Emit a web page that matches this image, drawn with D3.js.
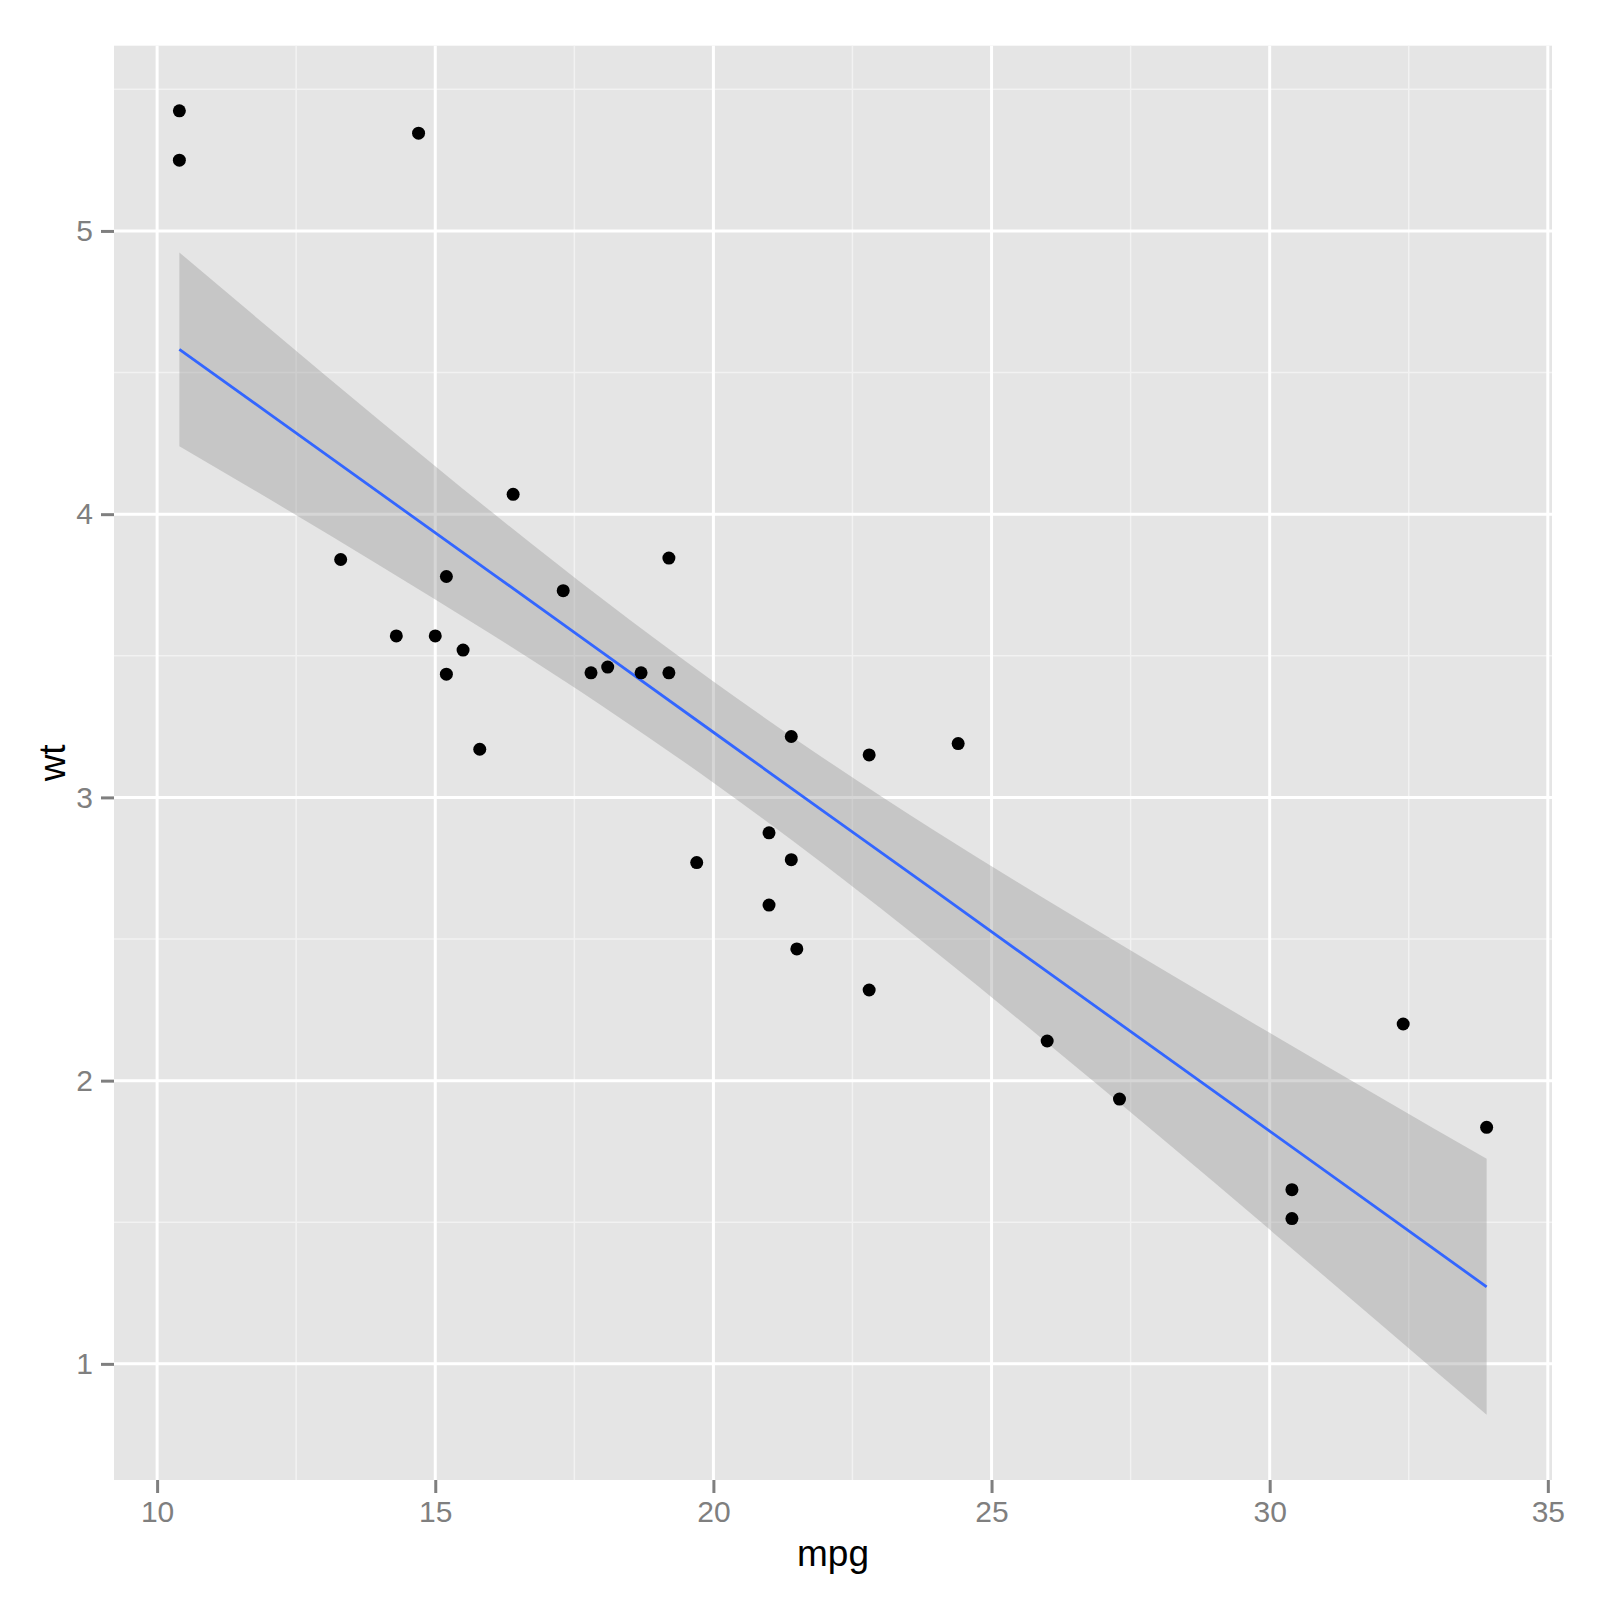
<!DOCTYPE html>
<html>
<head>
<meta charset="utf-8">
<script src="https://cdn.jsdelivr.net/npm/d3@7"></script>
<style>
  body { margin: 0; background: #fff; }
  text { font-family: "Liberation Sans", Arial, sans-serif; }
</style>
</head>
<body>
<div id="chart"></div>
<script>
// mtcars: mpg vs wt
const mpg = [21.0, 21.0, 22.8, 21.4, 18.7, 18.1, 14.3, 24.4, 22.8, 19.2, 17.8, 16.4, 17.3, 15.2, 10.4, 10.4,
             14.7, 32.4, 30.4, 33.9, 21.5, 15.5, 15.2, 13.3, 19.2, 27.3, 26.0, 30.4, 15.8, 19.7, 15.0, 21.4];
const wt = [2.620, 2.875, 2.320, 3.215, 3.440, 3.460, 3.570, 3.190, 3.150, 3.440, 3.440, 4.070, 3.730, 3.780, 5.250, 5.424,
            5.345, 2.200, 1.615, 1.835, 2.465, 3.520, 3.435, 3.840, 3.845, 1.935, 2.140, 1.513, 3.170, 2.770, 3.570, 2.780];

// smoother
const bandX    = [10.4, 12, 14, 16, 18, 20, 22, 24, 26, 28, 30, 32, 33.9];
const fitY     = [4.582, 4.357, 4.075, 3.794, 3.512, 3.230, 2.948, 2.667, 2.385, 2.103, 1.822, 1.540, 1.272];
const bandLow  = [4.240, 4.055, 3.819, 3.577, 3.323, 3.052, 2.761, 2.453, 2.133, 1.806, 1.474, 1.139, 0.820];
const bandHigh = [4.924, 4.659, 4.331, 4.010, 3.701, 3.409, 3.136, 2.880, 2.637, 2.401, 2.169, 1.940, 1.724];

const xTicks = [10, 15, 20, 25, 30, 35];
const xMinor = [12.5, 17.5, 22.5, 27.5, 32.5];
const yTicks = [1, 2, 3, 4, 5];
const yMinor = [1.5, 2.5, 3.5, 4.5, 5.5];

const W = 1599, H = 1600;
const panel = { left: 114, right: 1552, top: 45.7, bottom: 1480 };

const svg = d3.select("#chart").append("svg")
    .attr("width", W)
    .attr("height", H);

svg.append("rect").attr("width", W).attr("height", H).attr("fill", "#fff");

const x = d3.scaleLinear().domain([9.225, 35.075]).range([panel.left, panel.right]);
const y = d3.scaleLinear().domain([0.590, 5.654]).range([panel.bottom, panel.top]);

// panel background
svg.append("rect")
    .attr("x", panel.left).attr("y", panel.top)
    .attr("width", panel.right - panel.left)
    .attr("height", panel.bottom - panel.top)
    .attr("fill", "#E5E5E5");

const grid = svg.append("g");

// minor grid
grid.selectAll(".vminor").data(xMinor).join("line")
    .attr("x1", d => x(d)).attr("x2", d => x(d))
    .attr("y1", panel.top).attr("y2", panel.bottom)
    .attr("stroke", "#F2F2F2").attr("stroke-width", 1.5);
grid.selectAll(".hminor").data(yMinor).join("line")
    .attr("y1", d => y(d)).attr("y2", d => y(d))
    .attr("x1", panel.left).attr("x2", panel.right)
    .attr("stroke", "#F2F2F2").attr("stroke-width", 1.5);

// major grid
grid.selectAll(".vmajor").data(xTicks).join("line")
    .attr("x1", d => x(d)).attr("x2", d => x(d))
    .attr("y1", panel.top).attr("y2", panel.bottom)
    .attr("stroke", "#fff").attr("stroke-width", 3);
grid.selectAll(".hmajor").data(yTicks).join("line")
    .attr("y1", d => y(d)).attr("y2", d => y(d))
    .attr("x1", panel.left).attr("x2", panel.right)
    .attr("stroke", "#fff").attr("stroke-width", 3);

// confidence band
const bandData = bandX.map((d, i) => ({ x: d, lo: bandLow[i], hi: bandHigh[i], fit: fitY[i] }));

svg.append("path")
    .datum(bandData)
    .attr("d", d3.area().curve(d3.curveMonotoneX).x(d => x(d.x)).y0(d => y(d.lo)).y1(d => y(d.hi)))
    .attr("fill", "#999999")
    .attr("fill-opacity", 0.4);

svg.append("path")
    .datum(bandData)
    .attr("d", d3.line().x(d => x(d.x)).y(d => y(d.fit)))
    .attr("fill", "none")
    .attr("stroke", "#3366FF")
    .attr("stroke-width", 2.8);

// points
svg.append("g").selectAll("circle")
    .data(mpg.map((d, i) => ({ mpg: d, wt: wt[i] })))
    .join("circle")
    .attr("cx", d => x(d.mpg))
    .attr("cy", d => y(d.wt))
    .attr("r", 6.5)
    .attr("fill", "#000");

// axes
const xAxis = svg.append("g")
    .attr("transform", `translate(0, ${panel.bottom})`)
    .call(d3.axisBottom(x).tickValues(xTicks).tickSize(13).tickPadding(8).tickFormat(d3.format("d")));
const yAxis = svg.append("g")
    .attr("transform", `translate(${panel.left}, 0)`)
    .call(d3.axisLeft(y).tickValues(yTicks).tickSize(13).tickPadding(8).tickFormat(d3.format("d")));

[xAxis, yAxis].forEach(a => {
    a.select(".domain").remove();
    a.selectAll(".tick line").attr("stroke", "#7F7F7F").attr("stroke-width", 3);
    a.selectAll(".tick text")
        .attr("fill", "#7F7F7F")
        .attr("font-size", 30)
        .style("font-family", "'Liberation Sans', Arial, sans-serif");
});

// axis titles
svg.append("text")
    .attr("x", (panel.left + panel.right) / 2)
    .attr("y", 1566)
    .attr("text-anchor", "middle")
    .attr("font-size", 37)
    .attr("fill", "#000")
    .text("mpg");

svg.append("text")
    .attr("transform", `translate(65, ${(panel.top + panel.bottom) / 2}) rotate(-90)`)
    .attr("text-anchor", "middle")
    .attr("font-size", 37)
    .attr("fill", "#000")
    .text("wt");
</script>
</body>
</html>
